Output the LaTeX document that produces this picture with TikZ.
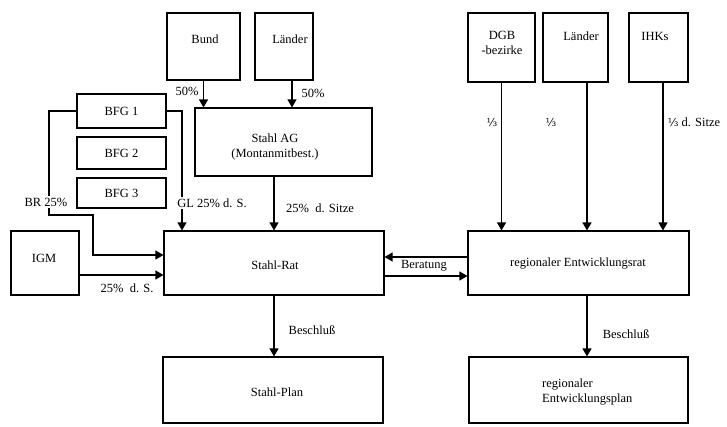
\documentclass[tikz,border=0pt]{standalone}
\usepackage{fontspec}
\setmainfont{Liberation Serif}
\newfontfamily\fracfont{DejaVu Serif}
\usetikzlibrary{arrows.meta}
\newcommand{\drittel}{{\fracfont\fontsize{11}{13}\selectfont ⅓}}
\begin{document}
\begin{tikzpicture}[x=1pt,y=-1pt,
  box/.style={draw, line width=1.1pt, rectangle, inner sep=0pt},
  txt/.style={inner sep=0pt, font=\fontsize{12.5}{15}\selectfont},
  lbl/.style={inner sep=1pt, font=\fontsize{12.5}{15}\selectfont},
  wlbl/.style={lbl, fill=white, inner sep=2pt},
  conn/.style={line width=1.1pt},
  arr/.style={conn, -{Triangle[width=9pt,length=8pt]}}]
\useasboundingbox (0,0) rectangle (727,426);
% boxes
\node[box, minimum width=73pt, minimum height=67pt] (bund) at (203.5,46.5) {};
\node[box, minimum width=58pt, minimum height=67pt] (laender) at (284,46.5) {};
\node[box, minimum width=177pt, minimum height=68pt] (stahlag) at (283.5,142) {};
\node[box, minimum width=89pt, minimum height=34pt] (bfg1) at (121.5,111) {};
\node[box, minimum width=89pt, minimum height=32pt] (bfg2) at (121.5,153) {};
\node[box, minimum width=89pt, minimum height=30pt] (bfg3) at (121.5,193) {};
\node[box, minimum width=68pt, minimum height=64pt] (igm) at (45,263) {};
\node[box, minimum width=220pt, minimum height=64pt] (stahlrat) at (274,263) {};
\node[box, minimum width=220pt, minimum height=66pt] (stahlplan) at (273,390) {};
\node[box, minimum width=67pt, minimum height=69pt] (dgb) at (501.5,47.5) {};
\node[box, minimum width=65pt, minimum height=69pt] (laender2) at (575.5,47.5) {};
\node[box, minimum width=59pt, minimum height=69pt] (ihks) at (658.5,47.5) {};
\node[box, minimum width=221pt, minimum height=64pt] (regrat) at (578.5,263) {};
\node[box, minimum width=219pt, minimum height=66pt] (regplan) at (578.5,390) {};
% box texts
\node[txt] (tbund) at (205,39) {Bund};
\node[txt] (tlaender) at (290,39) {Länder};
\node[txt, align=center] (tstahlag) at (275,147) {Stahl AG\\(Montanmitbest.)};
\node[txt] (tbfg1) at (121.5,111) {BFG 1};
\node[txt] (tbfg2) at (121.5,153) {BFG 2};
\node[txt] (tbfg3) at (121.5,193) {BFG 3};
\node[txt] (tigm) at (44,258) {IGM};
\node[txt] (tstahlrat) at (275,265) {Stahl-Rat};
\node[txt] (tstahlplan) at (277,392) {Stahl-Plan};
\node[txt, align=center] (tdgb) at (502,43) {DGB\\-bezirke};
\node[txt] (tlaender2) at (581,36) {Länder};
\node[txt] (tihks) at (655,36) {IHKs};
\node[txt] (tregrat) at (578,264) {regionaler Entwicklungsrat};
\node[txt, align=left, anchor=west] (tregplan) at (542,392) {regionaler\\Entwicklungsplan};
% helper coordinates
\coordinate (glx) at (182,0);
\coordinate (brx) at (49,215);
\coordinate (brx2) at (93,215);
\coordinate (lx) at (587,0);
\coordinate (ihx) at (663,0);
% connectors
\draw[arr] (bund.south) -- (bund.south |- stahlag.north);
\draw[arr] ([xshift=8pt]laender.south) -- ([xshift=8pt]laender.south |- stahlag.north);
\draw[arr] (stahlag.south -| stahlrat.north) -- (stahlrat.north);
\draw[arr] (stahlrat.south) -- (stahlrat.south |- stahlplan.north);
\draw[arr] (bfg1.east) -| (glx |- stahlrat.north);
\draw[arr] (bfg1.west) -| (brx) -- (brx2) |- ([yshift=8pt]stahlrat.west);
\draw[arr] ([yshift=-12pt]igm.east) -- ([yshift=-12pt]stahlrat.west);
\draw[arr] ([yshift=6pt]regrat.west) -- ([yshift=6pt]stahlrat.east);
\draw[arr] ([yshift=-13pt]stahlrat.east) -- ([yshift=-13pt]regrat.west);
\draw[arr] (dgb.south) -- (dgb.south |- regrat.north);
\draw[arr] (lx |- laender2.south) -- (lx |- regrat.north);
\draw[arr] (ihx |- ihks.south) -- (ihx |- regrat.north);
\draw[arr] (lx |- regrat.south) -- (lx |- regplan.north);
% connector labels
\node[lbl] (l50a) at (187,91) {50\%};
\node[lbl] (l50b) at (313,93) {50\%};
\node[wlbl] (lbr) at (46,202) {BR 25\%};
\node[wlbl] (lgl) at (212,203) {GL 25\% d. S.};
\node[lbl] (lsitze) at (320,208) {25\%\enspace d. Sitze};
\node[lbl] (ligm) at (127,288) {25\%\enspace d. S.};
\node[lbl] (lbes1) at (312,330) {Beschluß};
\node[lbl] (lber) at (424,266) {Beratung};
\node[lbl] (lbes2) at (626,334) {Beschluß};
\node[lbl] (ldrit1) at (492,122) {\drittel};
\node[lbl] (ldrit2) at (551,122) {\drittel};
\node[lbl] (ldrit3) at (694,122) {\drittel\ d. Sitze};
\end{tikzpicture}
\end{document}
